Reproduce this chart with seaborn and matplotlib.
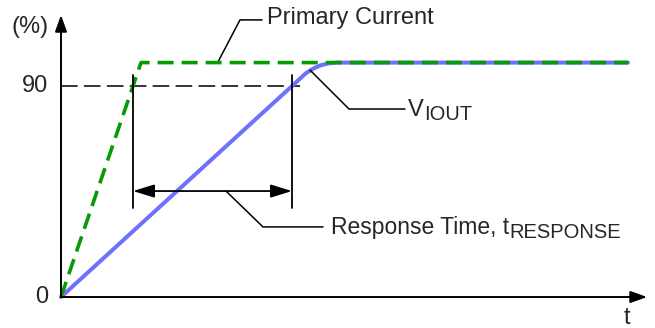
import matplotlib
matplotlib.use("Agg")
import matplotlib.pyplot as plt
import seaborn as sns

# time axis in arbitrary units, output in percent
t_primary = [0, 8.0, 56.7]
pct_primary = [0, 100, 100]

t_viout = [0, 23.1, 24.5, 25.3, 26.0, 26.8, 27.6, 56.7]
pct_viout = [0, 90, 95.5, 97.6, 98.9, 99.7, 100, 100]

t_90_primary = 7.2
t_90_viout = 23.1
level_90 = 90

y_ticks = [0, 90]
y_tick_labels = ["0", "90"]

sns.set_theme(style="white")
plt.rcParams["font.family"] = ["Liberation Sans", "DejaVu Sans"]
plt.rcParams["lines.scale_dashes"] = False

fig = plt.figure(figsize=(6.55, 3.28), dpi=100)
ax = fig.add_axes([0, 0, 1, 1])
ax.set_xlim(-6.1, 59.4)
ax.set_ylim(-13.22, 126.7)
ax.axis("off")

FS = 17
SUB_FS = 14.5

# curves
sns.lineplot(x=t_viout, y=pct_viout, ax=ax, color="#7070ff", lw=2.9,
             sort=False, estimator=None, solid_joinstyle="round", zorder=2)
ax.plot(t_primary, pct_primary, color="#079a07", lw=2.6,
        dashes=(11.5, 5.8), zorder=3)

# 90% reference line and markers
ax.plot([0, 23.9], [level_90, level_90], color="black", lw=1.1,
        dashes=(12, 4.5), zorder=1)
for tx in [t_90_primary, t_90_viout]:
    ax.plot([tx, tx], [38, 94.7], color="black", lw=1.3, zorder=4)

# response-time double arrow
ax.annotate("", xy=(t_90_viout, 45.2), xytext=(t_90_primary, 45.2),
            arrowprops=dict(arrowstyle="<|-|>,head_length=0.65,head_width=0.2",
                            color="black", lw=1.3, shrinkA=0, shrinkB=0,
                            mutation_scale=20), zorder=4)

# axes with arrowheads
ax.annotate("", xy=(0, 120.3), xytext=(0, 0),
            arrowprops=dict(arrowstyle="-|>,head_length=0.5,head_width=0.18",
                            color="black", lw=1.4, shrinkA=0, shrinkB=0,
                            mutation_scale=20), zorder=5)
ax.annotate("", xy=(58.6, 0), xytext=(0, 0),
            arrowprops=dict(arrowstyle="-|>,head_length=0.5,head_width=0.18",
                            color="black", lw=1.4, shrinkA=0, shrinkB=0,
                            mutation_scale=20), zorder=5)

# tick labels and axis labels
for yv, lab in zip(y_ticks, y_tick_labels):
    ax.text(-1.3, yv, lab, ha="right", va="center", fontsize=FS)
ax.text(-1.2, 115.2, "(%)", ha="right", va="center", fontsize=FS)
ax.text(56.6, -9.0, "t", ha="center", va="center", fontsize=FS)

renderer = fig.canvas.get_renderer()


def label_with_sub(x, y, main, sub, drop_px, fs=FS):
    txt = ax.text(x, y, main, ha="left", va="baseline", fontsize=fs)
    bb = txt.get_window_extent(renderer=renderer)
    _, yb = ax.transData.transform((x, y))
    ax.annotate(sub, xy=(bb.x1 + 0.5, yb - drop_px), xycoords="figure pixels",
                ha="left", va="baseline", fontsize=SUB_FS)


# leaders and callouts
ax.plot([15.7, 17.9, 20.1], [100.3, 118.2, 118.2], color="black", lw=1.1)
ax.text(20.6, 116.5, "Primary Current", ha="left", va="baseline", fontsize=FS)

ax.plot([24.9, 28.8, 34.4], [96.8, 80.2, 80.2], color="black", lw=1.1)
label_with_sub(34.7, 77.2, "V", "IOUT", 4)

ax.plot([16.5, 20.2, 26.2], [45.2, 29.9, 29.9], color="black", lw=1.1)
label_with_sub(27.0, 26.9, "Response Time, t", "RESPONSE", 4, fs=16.5)

fig.savefig("out.png", dpi=100)
